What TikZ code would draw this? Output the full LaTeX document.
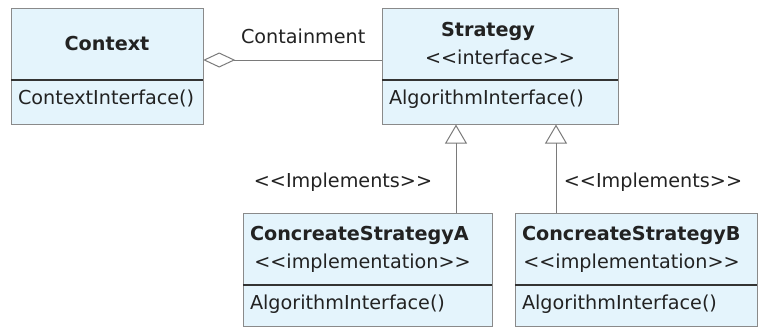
\documentclass[tikz,border=0pt]{standalone}
\usepackage{fontspec}
\newfontfamily\umlfont{DejaVu Sans}
\usetikzlibrary{positioning,arrows.meta}

\definecolor{classfill}{HTML}{E4F4FC}
\definecolor{classedge}{HTML}{8A8A8A}
\definecolor{divider}{HTML}{333333}
\definecolor{linkgray}{HTML}{7A7A7A}
\definecolor{ink}{HTML}{222222}

\tikzset{
  classhead/.style={draw=classedge,fill=classfill,minimum height=72pt,
    inner xsep=7pt,align=center,text width=#1},
  classbody/.style={draw=classedge,fill=classfill,inner xsep=7pt,inner ysep=4pt,
    text height=20pt,text depth=16pt,align=left,text width=#1},
  divline/.style={draw=divider,line width=2pt},
  aggr/.style={draw=linkgray,line width=1pt,{Diamond[open,length=32pt,width=15pt]}-},
  realize/.style={draw=linkgray,line width=1pt,-{Triangle[open,length=19pt,width=22pt]}}
}

\begin{document}
\begin{tikzpicture}[x=1pt,y=-1pt,font=\umlfont\fontsize{19.2pt}{28pt}\selectfont,text=ink]
\useasboundingbox (0,0) rectangle (758,327);

% classes
\node[classhead=178pt] (ctxhead) at (107,44) {\textbf{Context}};
\node[classbody=178pt,below=0pt of ctxhead] (ctxbody) {ContextInterface()};
\draw[divline] (ctxhead.south west) -- (ctxhead.south east);

\node[classhead=222pt] (strhead) at (500,44) {\textbf{Strategy}\kern24pt\\<<interface>>};
\node[classbody=222pt,below=0pt of strhead] (strbody) {AlgorithmInterface()};
\draw[divline] (strhead.south west) -- (strhead.south east);

\node[classhead=235pt] (cahead) at (367.5,249) {\textbf{ConcreateStrategyA}\kern24pt\\<<implementation>>\hspace*{10pt}};
\node[classbody=235pt,text depth=13pt,below=0pt of cahead] (cabody) {AlgorithmInterface()};
\draw[divline] (cahead.south west) -- (cahead.south east);

\node[classhead=228pt] (cbhead) at (636,249) {\textbf{ConcreateStrategyB}\kern22pt\\<<implementation>>\hspace*{9pt}};
\node[classbody=228pt,text depth=13pt,below=0pt of cbhead] (cbbody) {AlgorithmInterface()};
\draw[divline] (cbhead.south west) -- (cbhead.south east);

% relations
\draw[aggr] ([yshift=-16pt]ctxhead.east) -- node[pos=0.56,above=12pt] (contlabel) {Containment} ([yshift=-16pt]strhead.west);
\draw[realize] ([xshift=88.5pt]cahead.north) -- node[pos=0.35,left=20pt] (impla) {<<Implements>>} ([xshift=-44pt]strbody.south);
\draw[realize] ([xshift=-80pt]cbhead.north) -- node[pos=0.35,right=4pt] (implb) {<<Implements>>} ([xshift=56pt]strbody.south);
\end{tikzpicture}
\end{document}
